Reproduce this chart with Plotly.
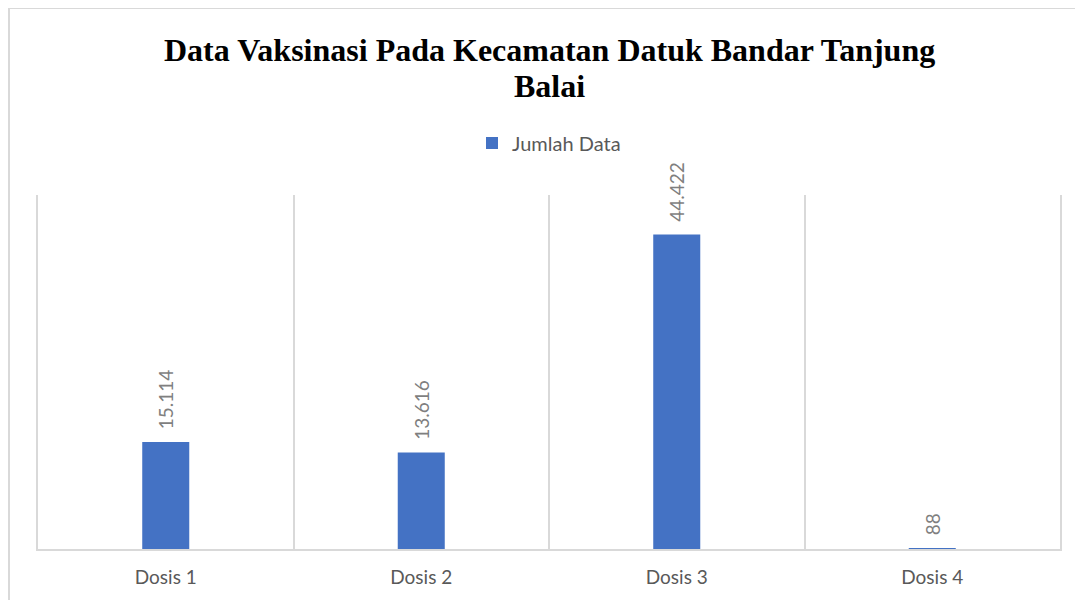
import plotly.graph_objects as go

kategori = ["Dosis 1", "Dosis 2", "Dosis 3", "Dosis 4"]
jumlah_data = [15114, 13616, 44422, 88]
judul = ["Data Vaksinasi Pada Kecamatan Datuk Bandar Tanjung", "Balai"]

# page body has an 8px margin, so positions below are shifted by it
W, H = 1083, 600
L, R, T, B = 30, 31, 187, 59
plot_w = W - L - R
plot_h = H - T - B


def py(pix):
    # figure pixel (from top) -> paper y
    return (H - B - pix) / plot_h


def px(pix):
    return (pix - L) / plot_w


sans = "Lato, Noto Sans, sans-serif"

fig = go.Figure()

fig.add_trace(go.Bar(
    x=kategori,
    y=jumlah_data,
    name="Jumlah Data",
    marker=dict(color="#4472C4", line=dict(width=0)),
    texttemplate="\u00a0\u00a0%{y:,}",
    textposition="outside",
    textangle=-90,
    constraintext="none",
    textfont=dict(family=sans, size=19, color="#7F7F7F"),
    cliponaxis=False,
))

fig.update_layout(
    width=W,
    height=H,
    margin=dict(l=L, r=R, t=T, b=B, autoexpand=False),
    paper_bgcolor="white",
    plot_bgcolor="white",
    separators=",.",
    bargap=0.816,
    showlegend=True,
    legend=dict(
        orientation="h",
        x=0.5,
        xanchor="center",
        y=py(135),
        yanchor="middle",
        font=dict(family=sans, size=20, color="#595959"),
        itemwidth=30,
    ),
    xaxis=dict(
        type="category",
        tickson="boundaries",
        showgrid=True,
        gridcolor="#D9D9D9",
        gridwidth=1.5,
        showline=True,
        linecolor="#D9D9D9",
        linewidth=2,
        ticks="",
        ticklabelstandoff=10,
        tickfont=dict(family=sans, size=19, color="#595959"),
    ),
    yaxis=dict(
        range=[0, 50000],
        showgrid=False,
        zeroline=False,
        showticklabels=False,
        showline=True,
        mirror=True,
        linecolor="#D9D9D9",
        linewidth=1.5,
    ),
)

# title, two lines
for teks, ypix in zip(judul, [42, 78]):
    fig.add_annotation(
        text="<b>" + teks + "</b>",
        xref="paper", yref="paper",
        x=0.5, y=py(ypix),
        xanchor="center", yanchor="middle",
        showarrow=False,
        font=dict(family="Liberation Serif, Times New Roman, serif", size=32, color="black"),
    )

# chart border (Excel chart area)
fig.add_shape(
    type="rect",
    xref="paper", yref="paper",
    x0=px(1), x1=1.2,
    y0=-0.5, y1=py(0),
    line=dict(color="#D9D9D9", width=2),
    fillcolor="rgba(0,0,0,0)",
    layer="below",
)

fig.write_html("out.html")
